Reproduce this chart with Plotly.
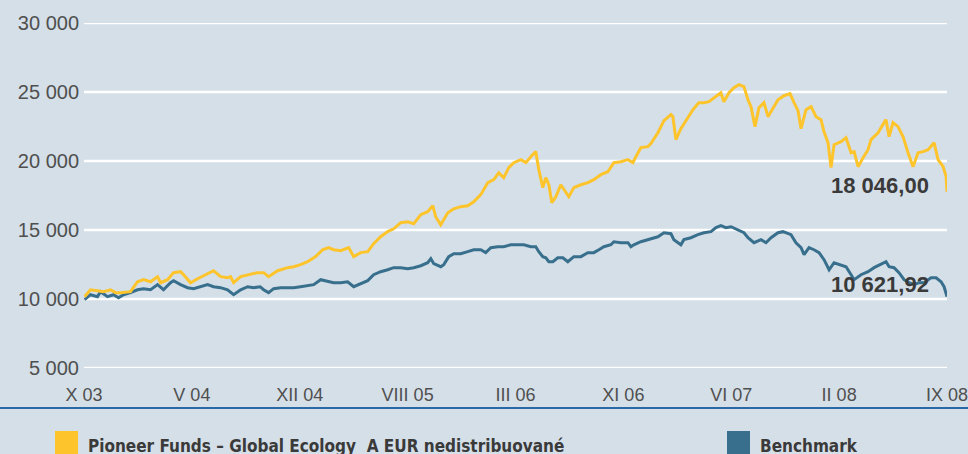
import plotly.graph_objects as go

# ---- data ----
tick_labels = ["X 03", "V 04", "XII 04", "VIII 05", "III 06", "XI 06", "VI 07", "II 08", "IX 08"]
tick_pos = [0, 1, 2, 3, 4, 5, 6, 7, 8]
y_ticks = [5000, 10000, 15000, 20000, 25000, 30000]
y_tick_text = ["5 000", "10 000", "15 000", "20 000", "25 000", "30 000"]

fund_x = [0.005, 0.060, 0.125, 0.181, 0.246, 0.292, 0.339, 0.431, 0.496, 0.552, 0.617, 0.682, 0.710, 0.775,
          0.830, 0.895, 0.923, 0.988, 1.053, 1.146, 1.201, 1.266, 1.331, 1.359, 1.387, 1.452, 1.517, 1.608,
          1.665, 1.711, 1.795, 1.888, 1.943, 2.008, 2.073, 2.147, 2.212, 2.268, 2.314, 2.379, 2.454, 2.500,
          2.565, 2.630, 2.685, 2.750, 2.815, 2.871, 2.936, 3.001, 3.057, 3.122, 3.186, 3.233, 3.260, 3.307,
          3.372, 3.428, 3.492, 3.557, 3.613, 3.678, 3.743, 3.799, 3.845, 3.891, 3.938, 3.984, 4.049, 4.096,
          4.142, 4.188, 4.216, 4.253, 4.281, 4.309, 4.337, 4.374, 4.420, 4.466, 4.494, 4.541, 4.606, 4.671,
          4.726, 4.791, 4.856, 4.912, 4.977, 5.042, 5.088, 5.116, 5.162, 5.227, 5.255, 5.320, 5.376, 5.441,
          5.459, 5.487, 5.533, 5.580, 5.645, 5.700, 5.747, 5.793, 5.858, 5.904, 5.932, 5.979, 6.025, 6.071,
          6.118, 6.155, 6.183, 6.220, 6.257, 6.303, 6.341, 6.387, 6.433, 6.489, 6.545, 6.582, 6.619, 6.647,
          6.693, 6.740, 6.786, 6.832, 6.860, 6.897, 6.925, 6.953, 7.018, 7.064, 7.111, 7.139, 7.176, 7.222,
          7.268, 7.296, 7.361, 7.416, 7.435, 7.463, 7.500, 7.546, 7.593, 7.639, 7.685, 7.732, 7.778, 7.825,
          7.880, 7.917, 7.964, 7.992, 8.000]
fund_y = [10170, 10670, 10600, 10530, 10670, 10460, 10460, 10530, 11250, 11400, 11250, 11620, 11180, 11400,
          11910, 11980, 11760, 11180, 11470, 11830, 12050, 11620, 11540, 11620, 11180, 11620, 11760, 11910,
          11910, 11620, 12050, 12270, 12340, 12490, 12700, 13070, 13570, 13720, 13570, 13500, 13720, 13070,
          13360, 13430, 14010, 14510, 14880, 15090, 15530, 15600, 15460, 16110, 16330, 16760, 15960, 15380,
          16250, 16540, 16690, 16760, 17050, 17560, 18430, 18650, 19150, 18790, 19520, 19880, 20100, 19880,
          20310, 20680, 19370, 18070, 18790, 18280, 16980, 17410, 18280, 17780, 17410, 18070, 18280, 18430,
          18650, 19010, 19220, 19880, 19950, 20100, 19880, 20310, 20970, 21040, 21260, 22050, 22920, 23360,
          23210, 21550, 22340, 22920, 23720, 24230, 24230, 24300, 24660, 24950, 24300, 24950, 25310, 25530,
          25390, 24440, 23940, 22490, 23860, 24230, 23210, 23860, 24440, 24730, 24880, 24230, 23650, 22340,
          23720, 23940, 23210, 22990, 22120, 21330, 19520, 21180, 21400, 21690, 20600, 20680, 19590, 20240,
          20820, 21550, 22050, 22780, 22990, 21760, 22780, 22490, 21760, 20600, 19590, 20600, 20680, 20820,
          21330, 20100, 19590, 18860, 17780]

bench_x = [0.005, 0.060, 0.125, 0.153, 0.218, 0.274, 0.320, 0.366, 0.431, 0.496, 0.552, 0.617, 0.682, 0.737,
           0.802, 0.830, 0.895, 0.960, 1.016, 1.081, 1.146, 1.201, 1.266, 1.331, 1.387, 1.452, 1.517, 1.572,
           1.633, 1.665, 1.711, 1.758, 1.823, 1.888, 1.943, 2.008, 2.073, 2.129, 2.194, 2.259, 2.314, 2.379,
           2.444, 2.500, 2.565, 2.630, 2.685, 2.750, 2.815, 2.871, 2.936, 3.001, 3.057, 3.122, 3.186, 3.215,
           3.242, 3.307, 3.335, 3.381, 3.428, 3.492, 3.557, 3.613, 3.678, 3.724, 3.771, 3.836, 3.891, 3.956,
           4.021, 4.077, 4.142, 4.188, 4.216, 4.253, 4.281, 4.309, 4.346, 4.392, 4.439, 4.485, 4.541, 4.606,
           4.671, 4.726, 4.773, 4.819, 4.884, 4.912, 4.977, 5.042, 5.070, 5.097, 5.162, 5.227, 5.320, 5.376,
           5.441, 5.468, 5.505, 5.533, 5.561, 5.626, 5.691, 5.747, 5.812, 5.858, 5.904, 5.951, 5.998, 6.062,
           6.118, 6.155, 6.211, 6.276, 6.322, 6.369, 6.433, 6.480, 6.526, 6.554, 6.600, 6.647, 6.675, 6.721,
           6.767, 6.814, 6.860, 6.907, 6.953, 7.018, 7.064, 7.111, 7.139, 7.203, 7.268, 7.324, 7.389, 7.435,
           7.463, 7.509, 7.555, 7.602, 7.648, 7.695, 7.741, 7.787, 7.852, 7.899, 7.945, 7.973, 8.000]
bench_y = [9950, 10310, 10170, 10530, 10170, 10310, 10090, 10310, 10460, 10670, 10750, 10670, 11040, 10670,
           11180, 11330, 11040, 10820, 10750, 10890, 11040, 10890, 10820, 10670, 10310, 10670, 10890, 10820,
           10890, 10670, 10460, 10750, 10820, 10820, 10820, 10890, 10960, 11040, 11400, 11250, 11180, 11180,
           11250, 10890, 11110, 11330, 11760, 11980, 12120, 12270, 12270, 12200, 12270, 12410, 12630, 12920,
           12560, 12340, 12490, 13070, 13280, 13280, 13430, 13570, 13570, 13360, 13720, 13790, 13790, 13930,
           13930, 13930, 13790, 13790, 13430, 13070, 12990, 12700, 12700, 12990, 12990, 12700, 13070, 13070,
           13360, 13360, 13570, 13790, 13930, 14150, 14080, 14080, 13790, 13930, 14150, 14300, 14510, 14800,
           14730, 14300, 14080, 13930, 14300, 14440, 14660, 14800, 14880, 15170, 15310, 15170, 15240, 15020,
           14800, 14440, 14080, 14300, 14080, 14440, 14800, 14880, 14730, 14660, 14080, 13720, 13210, 13720,
           13570, 13360, 12850, 12120, 12630, 12490, 12340, 11760, 11400, 11760, 11980, 12270, 12490, 12700,
           12340, 12270, 11910, 11400, 11180, 11040, 11180, 11180, 11540, 11540, 11250, 10890, 10170]

fund_name = "Pioneer Funds – Global Ecology  A EUR nedistribuované"
bench_name = "Benchmark"
fund_last = "18 046,00"
bench_last = "10 621,92"

# ---- style ----
BG = "#d5dfe8"
YELLOW = "#fdc42c"
BLUE = "#386f8d"
TXT = "#4f4f4f"
DARK = "#3a3a3a"
SANS = "Liberation Sans, Arial, sans-serif"
NARROW = "DejaVu Sans Condensed, Liberation Sans Narrow, sans-serif"

fig = go.Figure()
fig.add_trace(go.Scatter(x=bench_x, y=bench_y, mode="lines", name=bench_name,
                         line=dict(color=BLUE, width=3), showlegend=False))
fig.add_trace(go.Scatter(x=fund_x, y=fund_y, mode="lines", name=fund_name,
                         line=dict(color=YELLOW, width=3), showlegend=False))

PH = 345.0   # plot height in px
PW = 863.0   # plot width in px


def py(pix):
    return (368.0 - pix) / PH


def px(pix):
    return (pix - 84.0) / PW


# horizontal white gridlines at the y ticks, drawn below the data
shapes = [dict(type="line", xref="paper", yref="y", x0=0, x1=1, y0=v, y1=v, layer="below",
               line=dict(color="white", width=2.5)) for v in y_ticks]
shapes += [
    dict(type="line", xref="paper", yref="paper", x0=px(0), x1=px(968), y0=py(408), y1=py(408),
         line=dict(color="#2b68a6", width=2)),
    dict(type="rect", xref="paper", yref="paper", x0=px(55), x1=px(78), y0=py(431), y1=py(470),
         fillcolor=YELLOW, line=dict(width=0)),
    dict(type="rect", xref="paper", yref="paper", x0=px(727), x1=px(750), y0=py(431), y1=py(470),
         fillcolor=BLUE, line=dict(width=0)),
]

LEG_FONT = dict(family=NARROW, size=17, color=DARK, weight="bold")
annotations = [
    dict(text=fund_name, xref="paper", yref="paper", x=px(86), y=py(445.5), xanchor="left",
         yanchor="middle", showarrow=False, font=LEG_FONT),
    dict(text=bench_name, xref="paper", yref="paper", x=px(758), y=py(445.5), xanchor="left",
         yanchor="middle", showarrow=False, font=LEG_FONT),
    dict(text=fund_last, xref="x", yref="y", x=7.85, y=18209, xanchor="right", yanchor="middle",
         showarrow=False, font=dict(family=SANS, size=22, color=DARK, weight="bold")),
    dict(text=bench_last, xref="x", yref="y", x=7.85, y=11072, xanchor="right", yanchor="middle",
         showarrow=False, font=dict(family=SANS, size=22, color=DARK, weight="bold")),
]

fig.update_layout(
    width=968, height=454,
    margin=dict(l=84, r=21, t=23, b=86, pad=0, autoexpand=False),
    paper_bgcolor=BG, plot_bgcolor=BG,
    shapes=shapes, annotations=annotations,
    xaxis=dict(range=[0, 8], tickvals=tick_pos, ticktext=tick_labels, showgrid=False, zeroline=False,
               showline=False, ticks="", ticklabelstandoff=14, ticklabeloverflow="allow",
               automargin=False, tickfont=dict(family=SANS, size=18, color=TXT)),
    yaxis=dict(range=[5000, 30000], tickvals=y_ticks, ticktext=y_tick_text, showgrid=False,
               zeroline=False, showline=False, ticks="", ticklabelstandoff=4, automargin=False,
               ticklabeloverflow="allow", tickfont=dict(family=SANS, size=20, color=TXT)),
    showlegend=False,
)

fig.write_html("out.html", config={"displayModeBar": False},
               post_script="document.body.style.margin='0';document.body.style.overflow='hidden';")
